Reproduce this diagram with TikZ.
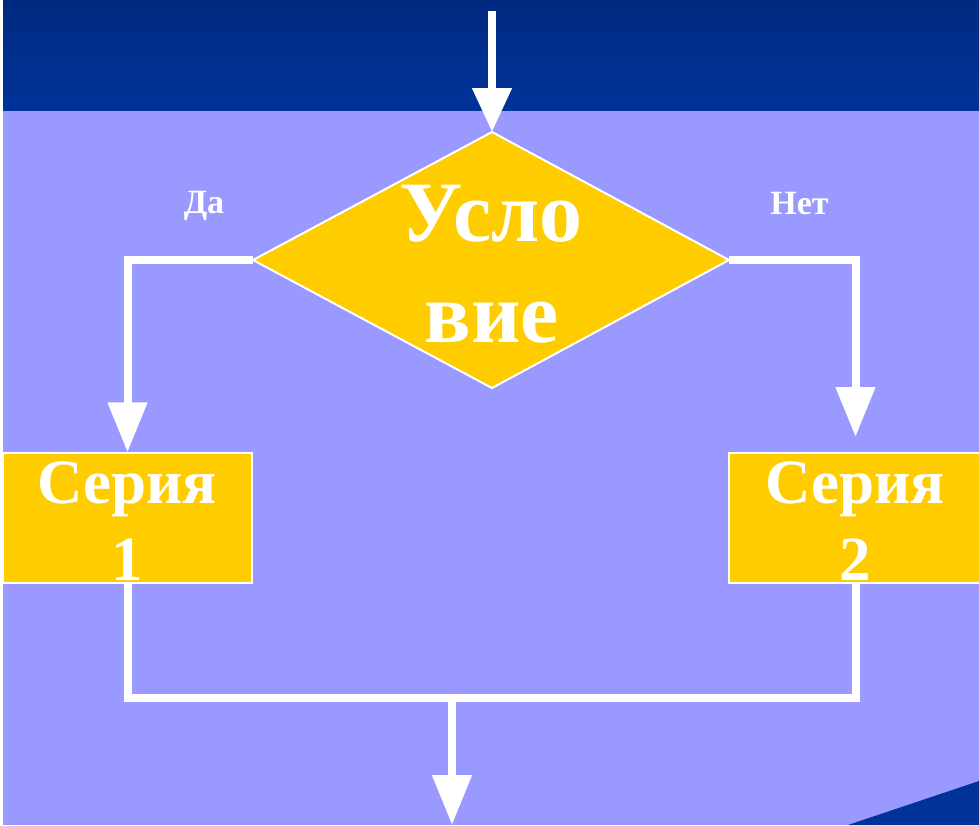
\documentclass[tikz,border=0pt]{standalone}
\usepackage{fontspec}
\setmainfont{Liberation Serif}
\usetikzlibrary{arrows.meta}
\definecolor{bandtop}{HTML}{002A80}
\definecolor{bandbot}{HTML}{003399}
\definecolor{field}{HTML}{9999FF}
\definecolor{gold}{HTML}{FFCC00}
\tikzset{
  flow/.style={draw=white, line width=8pt},
  flowarrow/.style={flow, -{Triangle[width=38pt,length=50pt]}},
  block/.style={rectangle, fill=gold, draw=white, line width=1.5pt, inner sep=0pt},
  bigtext/.style={text=white, inner sep=0pt, anchor=base,
    font=\bfseries\fontsize{86}{100}\selectfont},
  midtext/.style={text=white, inner sep=0pt, anchor=base,
    font=\bfseries\fontsize{63}{77}\selectfont},
  smalltext/.style={text=white, inner sep=0pt, anchor=base,
    font=\bfseries\fontsize{34}{40}\selectfont}
}
\begin{document}
\begin{tikzpicture}[x=1pt,y=-1pt]
\useasboundingbox (0,0) rectangle (979,825);
% background
\fill[field] (0,0) rectangle (979,825);
\shade[top color=bandtop, bottom color=bandbot] (0,0) rectangle (979,110);
\fill[bandbot] (848,825) -- (979,781) -- (979,825) -- cycle;
\fill[white] (0,0) rectangle (3,825);

% decision diamond
\coordinate (c-top) at (492,132);
\coordinate (c-right) at (729,260);
\coordinate (c-bot) at (492,388);
\coordinate (c-left) at (253,260);
\filldraw[fill=gold, draw=white, line width=2pt]
  (c-top) -- (c-right) -- (c-bot) -- (c-left) -- cycle;
\node[bigtext] (cond1) at (491,241) {Усло};
\node[bigtext] (cond2) at (492,342) {вие};

% branch labels
\node[smalltext] (yes) at (204,213) {Да};
\node[smalltext] (no) at (799.5,214) {Нет};

% series blocks
\node[block, minimum width=249pt, minimum height=130pt] (s1) at (127.5,518) {};
\node[block, minimum width=251pt, minimum height=130pt] (s2) at (854.5,518) {};
\node[midtext] (s1a) at (127,503) {Серия};
\node[midtext] (s1b) at (127,580) {1};
\node[midtext] (s2a) at (855,503) {Серия};
\node[midtext] (s2b) at (855,580) {2};

% connectors
\coordinate (in) at (492,11);
\coordinate (s2in) at (855.5,437);
\coordinate (j1) at (127.5,698);
\coordinate (j2) at (855.5,698);
\coordinate (merge) at (452,698);
\coordinate (out) at (452,825);

\draw[flow, -{Triangle[width=38pt,length=44pt]}] (in) -- (c-top);
\draw[flowarrow] (c-left) -| (s1.north);
\draw[flowarrow] (c-right) -| (s2in);
\draw[flow] (s1.south) -- (j1);
\draw[flow] (s2.south -| j2) -- (j2);
\draw[flow, line cap=rect] (j1) -- (j2);
\draw[flowarrow] (merge) -- (out);
\end{tikzpicture}
\end{document}
